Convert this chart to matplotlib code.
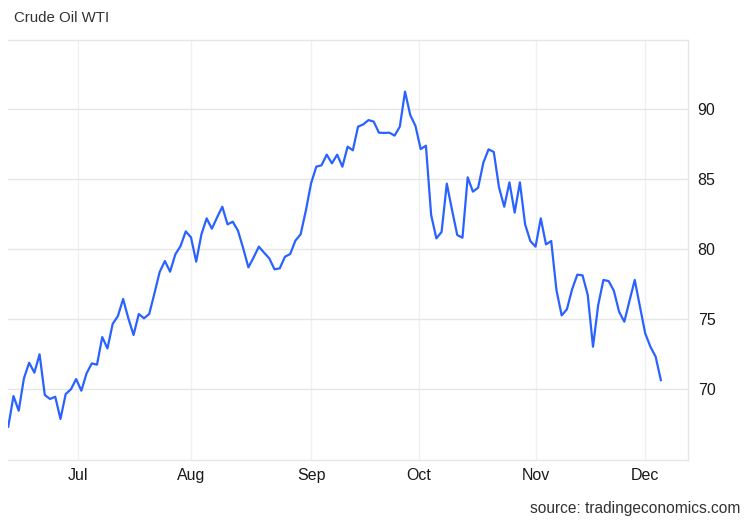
import numpy as np
import pandas as pd
import matplotlib
matplotlib.use("Agg")
import matplotlib.pyplot as plt

plt.rcParams["font.family"] = ["Liberation Sans", "DejaVu Sans"]

# ── Data ──────────────────────────────────────────────────────────────────

TITLE = "Crude Oil WTI"
SOURCE = "source: tradingeconomics.com"

# trading days shown (weekdays, Thanksgiving missing)
dates = pd.bdate_range("2023-06-13", "2023-12-06")
dates = dates[dates != pd.Timestamp("2023-11-23")]

prices = [
    67.31, 69.50, 68.45, 70.76, 71.88, 71.17, 72.48, 69.57, 69.29, 69.45,
    67.86, 69.64, 69.98, 70.71, 69.88, 71.12, 71.83, 71.74, 73.71, 72.90,
    74.65, 75.21, 76.43, 75.05, 73.86, 75.36, 75.05, 75.36, 76.83, 78.36,
    79.14, 78.38, 79.62, 80.21, 81.26, 80.83, 79.10, 81.05, 82.19, 81.45,
    82.26, 83.02, 81.76, 81.95, 81.31, 80.05, 78.69, 79.40, 80.17, 79.74,
    79.33, 78.55, 78.62, 79.45, 79.64, 80.60, 81.05, 82.74, 84.69, 85.88,
    85.98, 86.74, 86.12, 86.74, 85.88, 87.31, 87.05, 88.74, 88.90, 89.21,
    89.10, 88.31, 88.29, 88.31, 88.10, 88.74, 91.24, 89.57, 88.79, 87.14,
    87.38, 82.43, 80.76, 81.22, 84.67, 82.79, 81.00, 80.81, 85.12, 84.10,
    84.38, 86.17, 87.12, 86.93, 84.40, 83.02, 84.76, 82.60, 84.76, 81.76,
    80.57, 80.17, 82.19, 80.33, 80.57, 77.07, 75.26, 75.69, 77.12, 78.17,
    78.12, 76.71, 73.02, 76.00, 77.79, 77.71, 77.02, 75.52, 74.81, 76.31,
    77.79, 75.88, 73.98, 73.02, 72.31, 70.64,
]

month_starts = ["2023-07-01", "2023-08-01", "2023-09-01", "2023-10-01",
                "2023-11-01", "2023-12-01"]
month_labels = ["Jul", "Aug", "Sep", "Oct", "Nov", "Dec"]
y_ticks = [70, 75, 80, 85, 90]

# ── Ordinal x positions (points evenly spaced, months interpolated) ─────

idx = np.arange(len(dates))
date_num = dates.values.astype("datetime64[s]").astype(np.int64)
month_num = pd.to_datetime(month_starts).values.astype("datetime64[s]").astype(np.int64)
month_pos = np.interp(month_num, date_num, idx)

# ── Plot ──────────────────────────────────────────────────────────────────

fig = plt.figure(figsize=(7.5, 5.2), dpi=100)
ax = fig.add_axes([8 / 750, 1 - 460 / 520, 680 / 750, 420 / 520])

ax.plot(idx, prices, color="#2962ff", linewidth=1.6, solid_joinstyle="round")

ax.set_xlim(-0.05, 130.2)
ax.set_ylim(64.93, 94.93)

ax.set_xticks(month_pos)
ax.set_xticklabels(month_labels)
ax.set_yticks(y_ticks)
ax.yaxis.tick_right()

for x in month_pos:
    ax.axvline(x, color="#edf1f6", linewidth=1, zorder=0)
for y in y_ticks:
    ax.axhline(y, color="#e6e6e6", linewidth=1, zorder=0)

ax.tick_params(axis="both", length=0, labelsize=11.5, colors="#1a1a1a")
ax.tick_params(axis="x", pad=6)
ax.tick_params(axis="y", pad=7)

for side in ("top", "bottom", "right"):
    ax.spines[side].set_color("#e6e6e6")
    ax.spines[side].set_linewidth(1)
ax.spines["left"].set_visible(False)

fig.text(14 / 750, 1 - 18 / 520, TITLE, fontsize=10.8, color="#333333",
         ha="left", va="center")
fig.text(740 / 750, 1 - 508 / 520, SOURCE, fontsize=11.2, color="#333333",
         ha="right", va="center")

fig.savefig("out.png", dpi=100)
